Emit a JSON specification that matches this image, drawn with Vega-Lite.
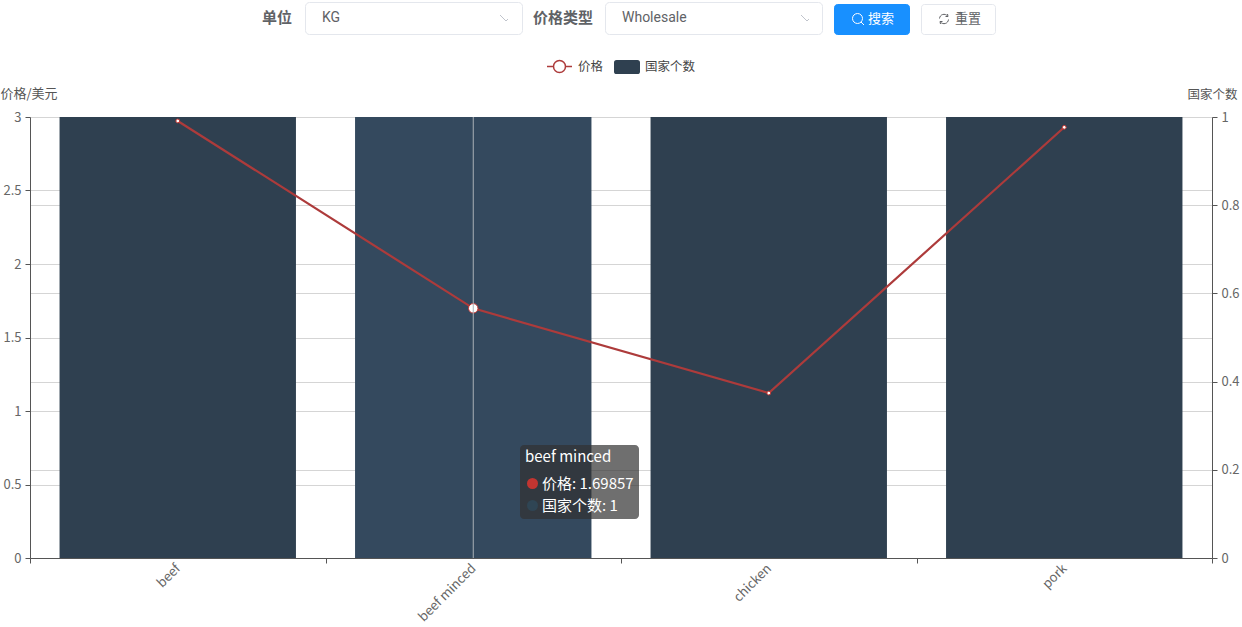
{
"$schema":"https://vega.github.io/schema/vega-lite/v6.json",
"width":1182,"height":441,
"autosize":{"type":"none"},
"padding":{"left":30,"top":117,"right":30,"bottom":69},
"background":"white",
"config":{"view":{"stroke":null},"font":"Noto Sans CJK SC"},
"datasets":{
 "bars":[{"item":"beef","series":"国家个数","count":1},{"item":"beef minced","series":"国家个数","count":1},{"item":"chicken","series":"国家个数","count":1},{"item":"pork","series":"国家个数","count":1}],
 "prices":[{"item":"beef","series":"价格","price":2.973},{"item":"beef minced","series":"价格","price":1.69857},{"item":"chicken","series":"价格","price":1.122},{"item":"pork","series":"价格","price":2.93}],
 "hover":[{"item":"beef minced","series":"价格","price":1.69857}],
 "tip":[{"entry":"价格: 1.69857"},{"entry":"国家个数: 1"}]
},
"layer":[
 {"data":{"name":"bars"},"mark":{"type":"bar","width":{"band":0.8}},
  "encoding":{
   "x":{"field":"item","type":"nominal","sort":null,"scale":{"type":"band","paddingInner":0,"paddingOuter":0},
    "axis":{"title":null,"labelAngle":-45,"labelAlign":"right","labelBaseline":"middle","labelFontSize":13,"labelColor":"#666","labelPadding":3,"domainColor":"#555","tickColor":"#555","tickSize":5,"tickBand":"extent","grid":false,"labelLimit":200}},
   "y":{"field":"count","type":"quantitative","scale":{"domain":[0,1]},
    "axis":{"orient":"right","values":[0,0.2,0.4,0.6,0.8,1],"format":"~g","grid":true,"gridColor":"#d5d5d5","domainColor":"#555","tickColor":"#555","tickSize":5,"labelColor":"#666","labelFontSize":13,"labelPadding":4,"title":"国家个数","titleAngle":0,"titleX":25,"titleY":-23,"titleAlign":"right","titleBaseline":"middle","titleFontSize":12.5,"titleFontWeight":"normal","titleColor":"#555"}},
   "color":{"condition":{"test":"datum.item==='beef minced'","value":"#34495e"},"field":"series","type":"nominal","scale":{"domain":["国家个数"],"range":["#2f4050"]},
    "legend":{"title":null,"orient":"none","legendX":583,"legendY":-64,"symbolType":"M-0.8,-0.54 L0.8,-0.54 Q1,-0.54 1,-0.34 L1,0.34 Q1,0.54 0.8,0.54 L-0.8,0.54 Q-1,0.54 -1,0.34 L-1,-0.34 Q-1,-0.54 -0.8,-0.54 Z","symbolSize":676,"labelFontSize":12.5,"labelColor":"#444","labelOffset":4}}
  }},
 {"data":{"name":"prices"},"mark":{"type":"line","strokeWidth":2.2},
  "encoding":{
   "x":{"field":"item","type":"nominal","sort":null,"scale":{"type":"band","paddingInner":0,"paddingOuter":0},
    "axis":{"title":null,"labelAngle":-45,"labelAlign":"right","labelBaseline":"middle","labelFontSize":13,"labelColor":"#666","labelPadding":3,"domainColor":"#555","tickColor":"#555","tickSize":5,"tickBand":"extent","grid":false,"labelLimit":200}},
   "y":{"field":"price","type":"quantitative","scale":{"domain":[0,3]},
    "axis":{"orient":"left","values":[0,0.5,1,1.5,2,2.5,3],"format":"~g","grid":true,"gridColor":"#d5d5d5","domainColor":"#555","tickColor":"#555","tickSize":5,"labelColor":"#666","labelFontSize":13,"labelPadding":4,"title":"价格/美元","titleAngle":0,"titleX":-30,"titleY":-24,"titleAlign":"left","titleBaseline":"middle","titleFontSize":13,"titleFontWeight":"normal","titleColor":"#555"}},
   "color":{"field":"series","type":"nominal","scale":{"domain":["价格"],"range":["#ad3b3b"]},
    "legend":{"title":null,"orient":"none","legendX":516,"legendY":-64,"symbolType":"M-1,0 L-0.48,0 M0.48,0 L1,0 M0.48,0 A0.48,0.48 0 1 1 -0.48,0 A0.48,0.48 0 1 1 0.48,0","symbolSize":625,"labelFontSize":12.5,"labelColor":"#444","labelOffset":5}}
  }},
 {"data":{"name":"prices"},"mark":{"type":"point","filled":true,"fill":"white","stroke":"#c23531","strokeWidth":1,"size":14,"opacity":1},
  "encoding":{
   "x":{"field":"item","type":"nominal","sort":null,"scale":{"type":"band","paddingInner":0,"paddingOuter":0},
    "axis":{"title":null,"labelAngle":-45,"labelAlign":"right","labelBaseline":"middle","labelFontSize":13,"labelColor":"#666","labelPadding":3,"domainColor":"#555","tickColor":"#555","tickSize":5,"tickBand":"extent","grid":false,"labelLimit":200}},
   "y":{"field":"price","type":"quantitative","scale":{"domain":[0,3]},"axis":null}
  }},
 {"data":{"name":"hover"},"mark":{"type":"point","filled":true,"fill":"white","stroke":"#c23531","strokeWidth":1,"size":90,"opacity":1},
  "encoding":{
   "x":{"field":"item","type":"nominal","sort":null,"scale":{"type":"band","paddingInner":0,"paddingOuter":0},
    "axis":{"title":null,"labelAngle":-45,"labelAlign":"right","labelBaseline":"middle","labelFontSize":13,"labelColor":"#666","labelPadding":3,"domainColor":"#555","tickColor":"#555","tickSize":5,"tickBand":"extent","grid":false,"labelLimit":200}},
   "y":{"field":"price","type":"quantitative","scale":{"domain":[0,3]},"axis":null}
  }},
 {"data":{"name":"hover"},"mark":{"type":"rule","stroke":"#a9b0b6","strokeWidth":1},
  "encoding":{
   "x":{"field":"item","type":"nominal","sort":null,"scale":{"type":"band","paddingInner":0,"paddingOuter":0},
    "axis":{"title":null,"labelAngle":-45,"labelAlign":"right","labelBaseline":"middle","labelFontSize":13,"labelColor":"#666","labelPadding":3,"domainColor":"#555","tickColor":"#555","tickSize":5,"tickBand":"extent","grid":false,"labelLimit":200}}
  }},
 {"data":{"values":[{"control":"单位"}]},"mark":{"type":"point","opacity":0},
  "encoding":{"color":{"field":"control","type":"nominal","scale":{"range":["transparent"]},
   "legend":{"title":null,"orient":"none","legendX":217,"legendY":-107,"symbolSize":1,"labelOffset":0,"labelFontSize":15,"labelFontWeight":"bold","labelColor":"#606266"}}}},
 {"data":{"values":[{"control":"价格类型"}]},"mark":{"type":"point","opacity":0},
  "encoding":{"color":{"field":"control","type":"nominal","scale":{"range":["transparent"]},
   "legend":{"title":null,"orient":"none","legendX":488,"legendY":-107,"symbolSize":1,"labelOffset":0,"labelFontSize":15,"labelFontWeight":"bold","labelColor":"#606266"}}}},
 {"data":{"values":[{"control":"KG"},{"control":""}]},"mark":{"type":"point","opacity":0},
  "encoding":{"color":{"field":"control","type":"nominal","sort":null,"scale":{"range":["transparent","#c0c4cc"]},
   "legend":{"title":"\u00a0","titleOrient":"right","titlePadding":6,"titleFontSize":1,"orient":"none","legendX":275,"legendY":-115,"columns":2,"columnPadding":158,"padding":8,"fillColor":"white","strokeColor":"#e4e7ed","cornerRadius":4,"clipHeight":16,"symbolType":"M-1,-0.5 L0,0.5 L1,-0.5","symbolSize":144,"symbolStrokeWidth":1,"labelOffset":-5,"labelFontSize":14,"labelColor":"#606266","labelFont":"Roboto"}}}},
 {"data":{"values":[{"control":"Wholesale"},{"control":""}]},"mark":{"type":"point","opacity":0},
  "encoding":{"color":{"field":"control","type":"nominal","sort":null,"scale":{"range":["transparent","#c0c4cc"]},
   "legend":{"title":"\u00a0","titleOrient":"right","titlePadding":5,"titleFontSize":1,"orient":"none","legendX":575,"legendY":-115,"columns":2,"columnPadding":113,"padding":8,"fillColor":"white","strokeColor":"#e4e7ed","cornerRadius":4,"clipHeight":16,"symbolType":"M-1,-0.5 L0,0.5 L1,-0.5","symbolSize":144,"symbolStrokeWidth":1,"labelOffset":-5,"labelFontSize":14,"labelColor":"#606266","labelFont":"Roboto"}}}},
 {"data":{"values":[{"control":"搜索"}]},"mark":{"type":"point","opacity":0},
  "encoding":{"color":{"field":"control","type":"nominal","sort":null,"scale":{"range":["white"]},
   "legend":{"title":"\u00a0","titleOrient":"right","titlePadding":7,"titleFontSize":1,"orient":"none","legendX":804,"legendY":-113,"padding":8,"fillColor":"#1890ff","strokeColor":"#1890ff","cornerRadius":3,"clipHeight":14,"symbolType":"M2.8,-0.1 A1,1 0 1 1 0.8,-0.1 A1,1 0 1 1 2.8,-0.1 M2.5,0.6 L3.1,1.2","symbolSize":100,"symbolStrokeWidth":1,"labelOffset":13,"labelFontSize":13,"labelColor":"white"}}}},
 {"data":{"values":[{"control":"重置"}]},"mark":{"type":"point","opacity":0},
  "encoding":{"color":{"field":"control","type":"nominal","sort":null,"scale":{"range":["#606266"]},
   "legend":{"title":"\u00a0","titleOrient":"right","titlePadding":6,"titleFontSize":1,"orient":"none","legendX":891,"legendY":-113,"padding":8,"fillColor":"white","strokeColor":"#e4e7ed","cornerRadius":3,"clipHeight":14,"symbolType":"M0.8,-0.1 A0.9,0.9 0 0 1 2.4,-0.6 M2.6,0.1 A0.9,0.9 0 0 1 1,0.6 M2.4,-1 L2.5,-0.5 L2,-0.5 M1,1 L0.9,0.5 L1.4,0.5","symbolSize":100,"symbolStrokeWidth":1,"labelOffset":13,"labelFontSize":13,"labelColor":"#606266"}}}},
 {"data":{"name":"tip"},"mark":{"type":"circle","opacity":0},
  "encoding":{"color":{"field":"entry","type":"nominal","sort":null,"scale":{"range":["#c23531","#2f4554"]},
   "legend":{"title":"beef minced","orient":"none","legendX":490,"legendY":328,"padding":5,"fillColor":"rgba(50,50,50,0.7)","cornerRadius":4,"titleColor":"white","titleFontSize":15,"titleFontWeight":"normal","titlePadding":11,"titleLimit":200,"symbolSize":121,"symbolStrokeWidth":0,"labelOffset":2,"labelFontSize":15,"labelColor":"white","labelLimit":200,"rowPadding":6}}}}
],
"resolve":{"scale":{"y":"independent","color":"independent"},"axis":{"y":"independent"},"legend":{"color":"independent"}}
}
